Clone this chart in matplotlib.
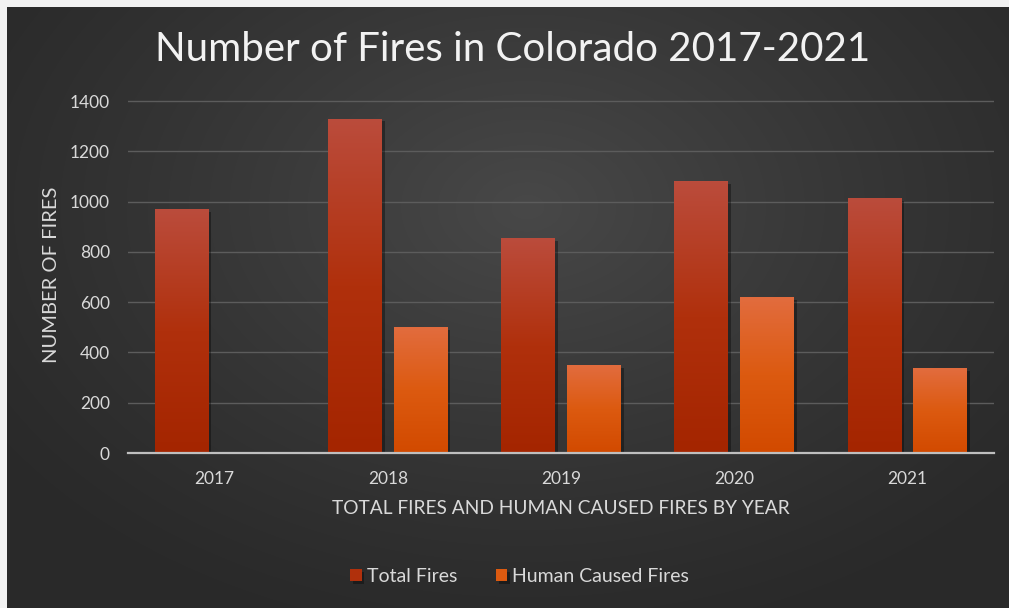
import matplotlib
matplotlib.use("Agg")
import matplotlib.pyplot as plt
import matplotlib.patheffects as pe
import numpy as np
from matplotlib.colors import LinearSegmentedColormap

years = ["2017", "2018", "2019", "2020", "2021"]
total_fires = [970, 1330, 855, 1080, 1015]
human_fires = [0, 500, 350, 620, 338]

TITLE = "Number of Fires in Colorado 2017-2021"
XLABEL = "TOTAL FIRES AND HUMAN CAUSED FIRES BY YEAR"
YLABEL = "NUMBER OF FIRES"

W, H = 1009, 608
TEXT = "#d9d9d9"

fig = plt.figure(figsize=(W / 100, H / 100), dpi=100, facecolor="#f2f2f2")

# dark panel with soft radial light
bg = fig.add_axes([7 / W, 0, 1 - 7 / W, 601 / H])
bg.set_axis_off()
yy, xx = np.mgrid[0:601, 0:1002]
r = np.sqrt(((xx - 520) / 650.0) ** 2 + ((yy - 200) / 450.0) ** 2)
shade = np.clip(1 - r, 0, 1) ** 1.2
bg.imshow(0.165 + 0.12 * shade, cmap="gray", vmin=0, vmax=1,
          aspect="auto", extent=[0, 1, 0, 1], origin="upper")
bg.set_xlim(0, 1)
bg.set_ylim(0, 1)

ax = fig.add_axes([128 / W, 155 / H, 866 / W, 357 / H])
ax.patch.set_alpha(0)

x = np.arange(len(years))
bw = 0.31
off = 0.19

cm_total = LinearSegmentedColormap.from_list("t", ["#a42500", "#b0300c", "#bb4c3c"])
cm_human = LinearSegmentedColormap.from_list("h", ["#d24a00", "#dc5a10", "#e26c3e"])

shadow = [pe.SimplePatchShadow(offset=(2, -2), shadow_rgbFace="black", alpha=0.35), pe.Normal()]
bars_t = ax.bar(x - off, total_fires, bw, color="#b0300c", zorder=3, path_effects=shadow)
bars_h = ax.bar(x + off, human_fires, bw, color="#dc5a10", zorder=3, path_effects=shadow)

grad = np.linspace(0, 1, 256).reshape(-1, 1)
for bars, cm in ((bars_t, cm_total), (bars_h, cm_human)):
    for b in bars:
        if b.get_height() <= 0:
            continue
        x0, y0 = b.get_x(), b.get_y()
        im = ax.imshow(grad, cmap=cm, aspect="auto", origin="lower",
                       extent=[x0, x0 + b.get_width(), y0, y0 + b.get_height()],
                       zorder=4)
        im.set_clip_path(b)
ax.set_xlim(-0.5, 4.5)
ax.set_ylim(0, 1420)

ax.set_yticks(range(0, 1401, 200))
ax.yaxis.grid(True, color="#5c5c5c", linewidth=1.0, zorder=0)
ax.set_axisbelow(True)
ax.set_xticks(x)
ax.set_xticklabels(years)
ax.tick_params(axis="both", length=0, colors=TEXT, labelsize=12.5)
ax.tick_params(axis="x", pad=13)
ax.tick_params(axis="y", pad=13)
for lab in ax.get_xticklabels() + ax.get_yticklabels():
    lab.set_family("Lato")

for s in ("top", "right", "left"):
    ax.spines[s].set_visible(False)
ax.spines["bottom"].set_color("#bfbfbf")
ax.spines["bottom"].set_linewidth(1.6)
ax.spines["bottom"].set_zorder(5)

ax.set_xlabel(XLABEL, color=TEXT, fontsize=13.8, family="Lato", labelpad=9)
ax.set_ylabel(YLABEL, color=TEXT, fontsize=14.5, family="Lato", labelpad=7)

fig.text(0.508, 0.918, TITLE, ha="center", va="center", color="#f2f2f2",
         fontsize=29, family="Lato")

leg = fig.legend([bars_t, bars_h], ["Total Fires", "Human Caused Fires"],
                 loc="center", bbox_to_anchor=(0.515, 0.052), ncol=2, frameon=False,
                 handlelength=0.6, handleheight=0.6, handletextpad=0.25,
                 columnspacing=2.0, prop={"family": "Lato", "size": 14})
for t in leg.get_texts():
    t.set_color(TEXT)

fig.savefig("out.png", dpi=100, facecolor=fig.get_facecolor())
